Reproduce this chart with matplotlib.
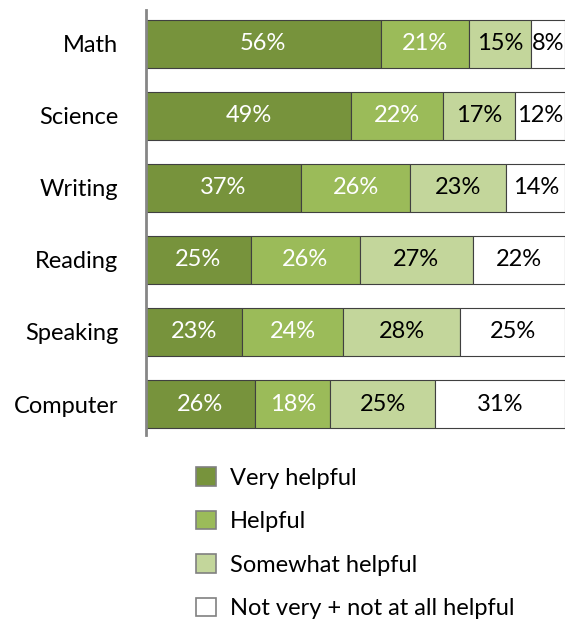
import matplotlib
matplotlib.use("Agg")
import matplotlib.pyplot as plt
from matplotlib.patches import Patch

plt.rcParams["font.family"] = ["Lato", "DejaVu Sans"]

SUBJECTS = ["Math", "Science", "Writing", "Reading", "Speaking", "Computer"]
VERY = [56, 49, 37, 25, 23, 26]
HELPFUL = [21, 22, 26, 26, 24, 18]
SOMEWHAT = [15, 17, 23, 27, 28, 25]
NOT_HELPFUL = [8, 12, 14, 22, 25, 31]
SERIES_NAMES = ["Very helpful", "Helpful", "Somewhat helpful", "Not very + not at all helpful"]

COLORS = ["#77933C", "#9BBB59", "#C3D69B", "#FFFFFF"]
TEXT_COLORS = ["white", "white", "black", "black"]
FS = 17


def main():
    fig = plt.figure(figsize=(5.75, 6.23), dpi=100)
    ax = fig.add_axes([146 / 575, 1 - 435 / 623, (565 - 146) / 575, 425 / 623])

    y = list(range(len(SUBJECTS)))
    left = [0] * len(SUBJECTS)
    for vals, col, tcol in zip([VERY, HELPFUL, SOMEWHAT, NOT_HELPFUL], COLORS, TEXT_COLORS):
        bars = ax.barh(y, vals, left=left, height=0.67, color=col,
                       edgecolor="#404040", linewidth=0.8)
        for b, v in zip(bars, vals):
            ax.text(b.get_x() + b.get_width() / 2, b.get_y() + b.get_height() / 2,
                    f"{v}%", ha="center", va="center", color=tcol, fontsize=FS,
                    clip_on=False)
        left = [l + v for l, v in zip(left, vals)]

    ax.set_xlim(0, 100)
    ax.set_ylim(5.43, -0.47)
    ax.set_yticks(y)
    ax.set_yticklabels(SUBJECTS, fontsize=FS)
    ax.tick_params(axis="y", length=0, pad=20)
    ax.set_xticks([])
    for s in ["top", "right", "bottom"]:
        ax.spines[s].set_visible(False)
    ax.spines["left"].set_color("#868686")
    ax.spines["left"].set_linewidth(2)

    handles = [Patch(facecolor=c, edgecolor="#808080", linewidth=1.2) for c in COLORS]
    fig.legend(handles, SERIES_NAMES, loc="upper left", bbox_to_anchor=(196 / 575, 1 - 467 / 623),
               frameon=False, fontsize=FS, handlelength=0.85, handleheight=0.85,
               labelspacing=0.93, handletextpad=0.6, borderpad=0, borderaxespad=0)

    fig.savefig("out.png", dpi=100)


if __name__ == "__main__":
    main()
